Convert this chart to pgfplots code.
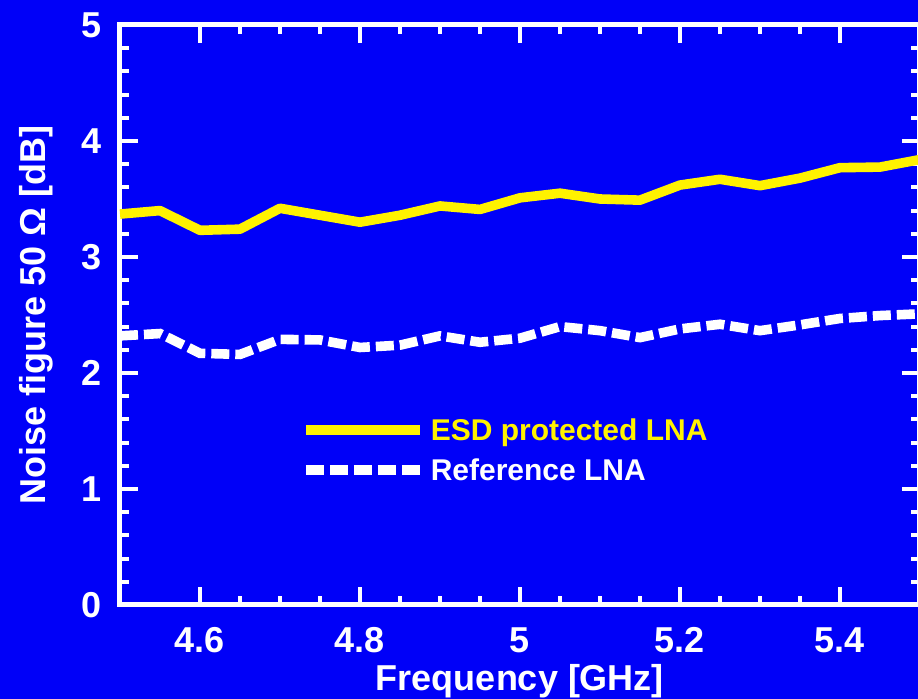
\documentclass[border=0pt]{standalone}
\usepackage{pgfplots}
\pgfplotsset{compat=1.18}
\usepackage{fontspec}
\setmainfont{Liberation Sans}
\definecolor{bgblue}{RGB}{0,0,248}
\definecolor{nfyellow}{RGB}{255,242,0}
\begin{document}
\begin{tikzpicture}
\useasboundingbox[fill=bgblue] (-60pt,-47pt) rectangle (399pt,302.5pt);
\begin{axis}[at={(0,0)}, anchor=south west,
  width=400pt, height=290pt, scale only axis,
  xmin=4.5, xmax=5.5, ymin=0, ymax=5,
  clip=false,
  xtick={4.6,4.8,5,5.2,5.4}, xticklabels={4.6,4.8,5,5.2,5.4},
  ytick={0,1,2,3,4,5},
  minor x tick num=3, minor y tick num=4,
  tick align=inside,
  axis line style={white, line width=2.5pt},
  tick style={white, line width=2pt},
  major tick length=9pt, minor tick length=4.5pt,
  /pgf/number format/assume math mode=true,
  tick label style={text=white, font=\bfseries\fontsize{18}{20}\selectfont, inner sep=0pt},
  xticklabel style={yshift=-11pt},
  yticklabel style={xshift=-9pt},
  xlabel={Frequency [GHz]},
  ylabel={Noise figure 50 Ω [dB]},
  every axis x label/.style={at={([yshift=-43pt]rel axis cs:0.5,0)}, anchor=base, text=white, font=\bfseries\fontsize{18}{20}\selectfont},
  every axis y label/.style={at={([xshift=-37pt]rel axis cs:0,0.5)}, anchor=base, rotate=90, text=white, font=\bfseries\fontsize{18}{20}\selectfont},
  legend style={at={(rel axis cs:0.2265,0.3276)}, anchor=north west, draw=none, fill=none,
    inner sep=0pt, outer sep=0pt, text=white,
    font=\bfseries\fontsize{15}{18}\selectfont,
    row sep=5pt, column sep=3pt,
    nodes={inner sep=0pt, text height=13pt, text depth=2pt}},
  legend cell align=left,
  legend image code/.code={\draw[#1] (0pt,0pt) -- (57pt,0pt);},
]
\addplot[nfyellow, line width=4.8pt, line join=round] coordinates {
(4.5,3.37)(4.55,3.40)(4.6,3.23)(4.65,3.24)(4.7,3.42)(4.75,3.36)(4.8,3.30)(4.85,3.36)(4.9,3.44)(4.95,3.41)(5.0,3.51)(5.05,3.55)(5.1,3.50)(5.15,3.49)(5.2,3.62)(5.25,3.67)(5.3,3.615)(5.35,3.68)(5.4,3.77)(5.45,3.775)(5.5,3.84)
};
\addlegendentry{\textcolor{nfyellow}{ESD protected LNA}}
\addplot[white, line width=4.8pt, dash pattern=on 9pt off 3pt] coordinates {
(4.5,2.32)(4.55,2.34)(4.6,2.17)(4.65,2.16)(4.7,2.29)(4.75,2.285)(4.8,2.22)(4.85,2.24)(4.9,2.32)(4.95,2.265)(5.0,2.30)(5.05,2.40)(5.1,2.365)(5.15,2.305)(5.2,2.38)(5.25,2.42)(5.3,2.365)(5.35,2.415)(5.4,2.47)(5.45,2.495)(5.5,2.51)
};
\addlegendentry{Reference LNA}
\end{axis}
\end{tikzpicture}
\end{document}
